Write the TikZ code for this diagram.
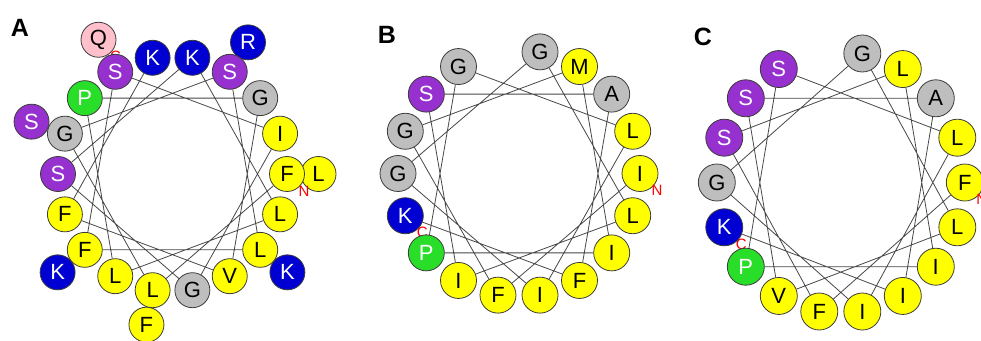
\documentclass[tikz,border=0pt]{standalone}
\usepackage{fontspec}
\setmainfont{Liberation Sans}
\newfontfamily\resfont{Liberation Sans}
\usepackage{tikz}
\usetikzlibrary{backgrounds}

\definecolor{hydyel}{RGB}{255,255,0}
\definecolor{glygray}{RGB}{190,190,190}
\definecolor{polpurple}{RGB}{150,48,206}
\definecolor{posblue}{RGB}{0,0,210}
\definecolor{progreen}{RGB}{40,222,40}
\definecolor{amdpink}{RGB}{255,192,203}
\definecolor{rim}{RGB}{60,60,60}

\begin{document}
\begin{tikzpicture}[
 x=1pt, y=1pt,
 aa/.style={circle, draw=rim, line width=0.8pt, minimum size=35pt, inner sep=0pt,
  font=\resfont\fontsize{22}{22}\selectfont},
 hydres/.style={aa, fill=hydyel},
 glyres/.style={aa, fill=glygray},
 amdres/.style={aa, fill=amdpink},
 polres/.style={aa, fill=polpurple, text=white},
 posres/.style={aa, fill=posblue, text=white},
 prores/.style={aa, fill=progreen, text=white},
 endtag/.style={text=red, inner sep=0pt, font=\resfont\fontsize{15}{15}\selectfont},
 panel/.style={inner sep=0pt, font=\resfont\bfseries\fontsize{25}{25}\selectfont},
 helix/.style={draw=black!72, line width=0.8pt}
]
\useasboundingbox (0,0) rectangle (981,340);

% panel A
\node[panel] (labA) at (20,312) {A};
\begin{scope}[shift={(172.5,166)}]
 % outer turn
 \node[hydres] (a18) at (0:146 and 150) {L};
 \node[hydres] (a19) at (260:150 and 153) {F};
 \node[polres] (a20) at (160:150 and 153) {S};
 \node[posres] (a21) at (60:151 and 152) {R};
 \node[posres] (a22) at (320:150 and 153) {K};
 \node[posres] (a23) at (220:150 and 153) {K};
 \node[amdres] (a24) at (120:148 and 155) {Q};
 \node[endtag] (cA) at ([shift={(17,-17)}]a24.center) {C};
 % inner turn
 \node[hydres] (a0) at (0:114.5 and 118) {F};
 \node[hydres] (a1) at (260:114.5 and 118) {L};
 \node[glyres] (a2) at (160:114.5 and 118) {G};
 \node[polres] (a3) at (60:114.5 and 118) {S};
 \node[hydres] (a4) at (320:114.5 and 118) {L};
 \node[hydres] (a5) at (220:114.5 and 118) {F};
 \node[polres] (a6) at (120:114.5 and 118) {S};
 \node[hydres] (a7) at (20:114.5 and 118) {I};
 \node[glyres] (a8) at (280:114.5 and 118) {G};
 \node[polres] (a9) at (180:114.5 and 118) {S};
 \node[posres] (a10) at (80:114.5 and 118) {K};
 \node[hydres] (a11) at (340:114.5 and 118) {L};
 \node[hydres] (a12) at (240:114.5 and 118) {L};
 \node[prores] (a13) at (140:114.5 and 118) {P};
 \node[glyres] (a14) at (40:114.5 and 118) {G};
 \node[hydres] (a15) at (300:114.5 and 118) {V};
 \node[hydres] (a16) at (200:114.5 and 118) {F};
 \node[posres] (a17) at (100:114.5 and 118) {K};
 \node[endtag] (nA) at ([shift={(17,-17)}]a0.center) {N};
\end{scope}
\begin{scope}[on background layer]
 \path[helix] (a0) -- (a1) -- (a2) -- (a3) -- (a4) -- (a5) -- (a6) -- (a7) -- (a8)
  -- (a9) -- (a10) -- (a11) -- (a12) -- (a13) -- (a14) -- (a15) -- (a16) -- (a17);
\end{scope}

% panel B
\node[panel] (labB) at (387,305) {B};
\begin{scope}[shift={(519,166.5)}, aa/.append style={minimum size=36pt}]
 \node[endtag] (cB) at ([shift={(17,-17)}]200:121 and 123.5) {C};
 \node[hydres] (b0) at (0:121 and 123.5) {I};
 \node[hydres] (b1) at (260:121 and 123.5) {F};
 \node[glyres] (b2) at (160:121 and 123.5) {G};
 \node[hydres] (b3) at (60:121 and 123.5) {M};
 \node[hydres] (b4) at (320:121 and 123.5) {I};
 \node[prores] (b5) at (220:121 and 123.5) {P};
 \node[glyres] (b6) at (120:121 and 123.5) {G};
 \node[hydres] (b7) at (20:121 and 123.5) {L};
 \node[hydres] (b8) at (280:121 and 123.5) {I};
 \node[glyres] (b9) at (180:121 and 123.5) {G};
 \node[glyres] (b10) at (80:121 and 123.5) {G};
 \node[hydres] (b11) at (340:121 and 123.5) {L};
 \node[hydres] (b12) at (240:121 and 123.5) {I};
 \node[polres] (b13) at (140:121 and 123.5) {S};
 \node[glyres] (b14) at (40:121 and 123.5) {A};
 \node[hydres] (b15) at (300:121 and 123.5) {F};
 \node[posres] (b16) at (200:121 and 123.5) {K};
 \node[endtag] (nB) at ([shift={(17,-17)}]b0.center) {N};
\end{scope}
\begin{scope}[on background layer]
 \path[helix] (b0) -- (b1) -- (b2) -- (b3) -- (b4) -- (b5) -- (b6) -- (b7) -- (b8)
  -- (b9) -- (b10) -- (b11) -- (b12) -- (b13) -- (b14) -- (b15) -- (b16);
\end{scope}

% panel C
\node[panel] (labC) at (703,303) {C};
\begin{scope}[shift={(840.8,157.5)}, aa/.append style={minimum size=37pt}]
 \node[endtag] (cC) at ([shift={(17,-17)}]200:124 and 131) {C};
 \node[hydres] (c0) at (0:124 and 131) {F};
 \node[hydres] (c1) at (260:124 and 131) {F};
 \node[polres] (c2) at (160:124 and 131) {S};
 \node[hydres] (c3) at (60:124 and 131) {L};
 \node[hydres] (c4) at (320:124 and 131) {I};
 \node[prores] (c5) at (220:124 and 131) {P};
 \node[polres] (c6) at (120:124 and 131) {S};
 \node[hydres] (c7) at (20:124 and 131) {L};
 \node[hydres] (c8) at (280:124 and 131) {I};
 \node[glyres] (c9) at (180:124 and 131) {G};
 \node[glyres] (c10) at (80:124 and 131) {G};
 \node[hydres] (c11) at (340:124 and 131) {L};
 \node[hydres] (c12) at (240:124 and 131) {V};
 \node[polres] (c13) at (140:124 and 131) {S};
 \node[glyres] (c14) at (40:124 and 131) {A};
 \node[hydres] (c15) at (300:124 and 131) {I};
 \node[posres] (c16) at (200:124 and 131) {K};
 \node[endtag] (nC) at ([shift={(17,-17)}]c0.center) {N};
\end{scope}
\begin{scope}[on background layer]
 \path[helix] (c0) -- (c1) -- (c2) -- (c3) -- (c4) -- (c5) -- (c6) -- (c7) -- (c8)
  -- (c9) -- (c10) -- (c11) -- (c12) -- (c13) -- (c14) -- (c15) -- (c16);
\end{scope}
\end{tikzpicture}
\end{document}
